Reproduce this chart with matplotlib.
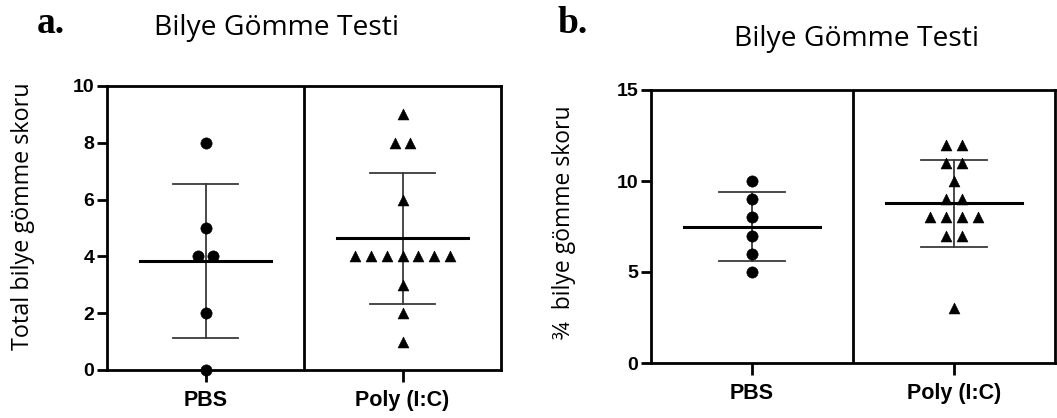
import numpy as np
import matplotlib
matplotlib.use("Agg")
import matplotlib.pyplot as plt

# group labels
groups = ["PBS", "Poly (I:C)"]

# panel a: total marble burying score
total_pbs = [0, 2, 4, 4, 5, 8]
total_poly = [1, 2, 3, 4, 4, 4, 4, 4, 4, 4, 6, 8, 8, 9]

# panel b: 3/4 marble burying score
quarter_pbs = [5, 6, 7, 8, 9, 10]
quarter_poly = [3, 7, 7, 8, 8, 8, 8, 9, 9, 10, 11, 11, 12, 12]

yticks_a = [0, 2, 4, 6, 8, 10]
yticks_b = [0, 5, 10, 15]

title = "Bilye Gömme Testi"
ylabel_a = "Total bilye gömme skoru"
ylabel_b = "¾  bilye gömme skoru"

TEXT_FONT = "Open Sans"
TICK_FONT = "Liberation Sans"


def spread(values, step=0.08):
    """x offsets so equal values sit side by side"""
    values = np.asarray(values)
    offs = np.zeros(len(values))
    for v in np.unique(values):
        idx = np.where(values == v)[0]
        n = len(idx)
        offs[idx] = (np.arange(n) - (n - 1) / 2) * step
    return offs


def draw_panel(ax, data, markers, yticks, ylim):
    for i, (vals, m) in enumerate(zip(data, markers)):
        vals = np.asarray(vals, dtype=float)
        mean = vals.mean()
        sd = vals.std(ddof=1)
        ax.scatter(i + spread(vals), vals, marker=m, s=66 if m == "o" else 62,
                   color="black", zorder=3, clip_on=False, linewidths=0.4,
                   edgecolors="black")
        ax.plot([i - 0.335, i + 0.335], [mean, mean], color="black", lw=2.2, zorder=4)
        ax.plot([i, i], [mean - sd, mean + sd], color="#3a3a3a", lw=1.3, zorder=2)
        for y in (mean - sd, mean + sd):
            ax.plot([i - 0.165, i + 0.165], [y, y], color="#3a3a3a", lw=1.3, zorder=2)

    ax.axvline(0.5, color="black", lw=2)
    ax.set_xlim(-0.5, 1.5)
    ax.set_ylim(*ylim)
    ax.set_xticks([0, 1])
    ax.set_xticklabels(groups, fontfamily=TICK_FONT, fontweight="bold", fontsize=15.5)
    ax.set_yticks(yticks)
    ax.set_yticklabels([str(t) for t in yticks], fontfamily=TICK_FONT,
                       fontweight="bold", fontsize=14)
    ax.tick_params(axis="x", length=8.5, width=2, pad=6)
    ax.tick_params(axis="y", length=7, width=2, pad=2)
    for s in ax.spines.values():
        s.set_linewidth(2)


fig = plt.figure(figsize=(10.57, 4.18), dpi=100)

ax_a = fig.add_axes([107 / 1057, 48 / 418, 394 / 1057, 284 / 418])
draw_panel(ax_a, [total_pbs, total_poly], ["o", "^"], yticks_a, (0, 10))

ax_b = fig.add_axes([651 / 1057, 55 / 418, 404 / 1057, 273 / 418])
draw_panel(ax_b, [quarter_pbs, quarter_poly], ["o", "^"], yticks_b, (0, 15))

# titles and panel letters
fig.text(276 / 1057, 1 - 35 / 418, title, ha="center", va="baseline",
         fontfamily=TEXT_FONT, fontsize=20.3)
fig.text(856 / 1057, 1 - 46 / 418, title, ha="center", va="baseline",
         fontfamily=TEXT_FONT, fontsize=20.3)
fig.text(37 / 1057, 1 - 33 / 418, "a.", ha="left", va="baseline",
         fontfamily="Liberation Serif", fontweight="bold", fontsize=27)
fig.text(558 / 1057, 1 - 33 / 418, "b.", ha="left", va="baseline",
         fontfamily="Liberation Serif", fontweight="bold", fontsize=27)

# y labels
fig.text(23 / 1057, 1 - 216 / 418, ylabel_a, rotation=90, ha="center", va="center",
         fontfamily=TEXT_FONT, fontsize=16.8)
fig.text(564 / 1057, 1 - 222 / 418, ylabel_b, rotation=90, ha="center", va="center",
         fontfamily=TEXT_FONT, fontsize=16.5)

fig.savefig("out.png", dpi=100)
